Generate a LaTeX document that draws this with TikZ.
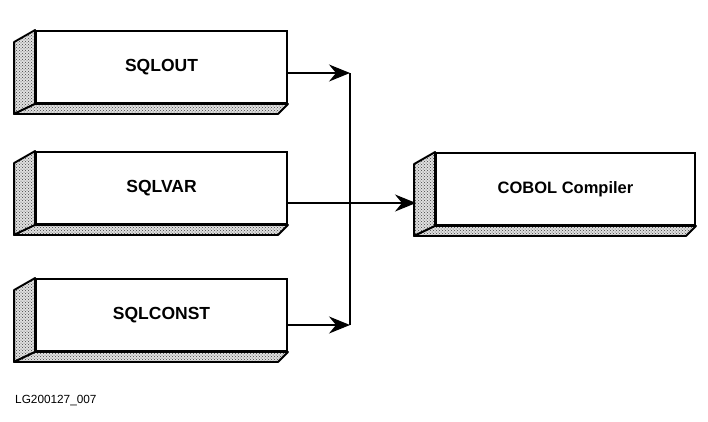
\documentclass[tikz,border=0pt]{standalone}
\usepackage{fontspec}
\setmainfont{Liberation Sans}
\usetikzlibrary{arrows.meta,calc,patterns}

\tikzset{
    slab/.style={draw, line width=1.9pt, fill=white, minimum width=251pt, minimum height=72pt,
        inner sep=0pt, font=\fontsize{17.5}{20}\selectfont\bfseries},
    face/.style={draw, line width=1.9pt, line join=round, preaction={fill=black!12},
        pattern=crosshatch dots, pattern color=black!75},
    feed/.style={-{Stealth[length=21pt, width=17pt, inset=7pt]}, line width=1.2pt},
    bus/.style={line width=2.8pt},
}

\begin{document}
\begin{tikzpicture}[x=1pt, y=-1pt]
    \useasboundingbox (0,0) rectangle (708,421);

    % 三个输入块与编译器
    \node[slab] (sqlout)   at (161.5, 67)  {SQLOUT};
    \node[slab] (sqlvar)   at (161.5, 188) {SQLVAR};
    \node[slab] (sqlconst) at (161.5, 315) {SQLCONST};
    \node[slab, minimum width=259pt, font=\fontsize{16.5}{19}\selectfont\bfseries]
        (cobol) at (565.5, 189) {COBOL Compiler};

    % 立体的侧面和底面
    \foreach \n in {sqlout, sqlvar, sqlconst, cobol} {
        \draw[face] (\n.north west) -- ++(-21, 12) -- ([shift={(-21pt,-10pt)}]\n.south west)
            -- (\n.south west) -- cycle;
        \draw[face] (\n.south west) -- ([shift={(-21pt,-10pt)}]\n.south west)
            -- ([shift={(-10pt,-10pt)}]\n.south east) -- (\n.south east) -- cycle;
    }

    % 汇合点
    \coordinate (j1)  at (350, 73);
    \coordinate (j3)  at (350, 325);
    \coordinate (cin) at (416, 203);

    % 连线
    \draw[bus] (j1) -- (j3);
    \draw[feed] ([yshift=-6pt]sqlout.east) -- (j1);
    \draw[feed] ([yshift=-10pt]sqlconst.east) -- (j3);
    \draw[feed] ([yshift=-15pt]sqlvar.east) -- (cin);

    % 图号
    \node[font=\fontsize{11.8}{13}\selectfont, anchor=west, inner sep=0pt] (figid) at (15, 401) {LG200127\_007};
\end{tikzpicture}
\end{document}
